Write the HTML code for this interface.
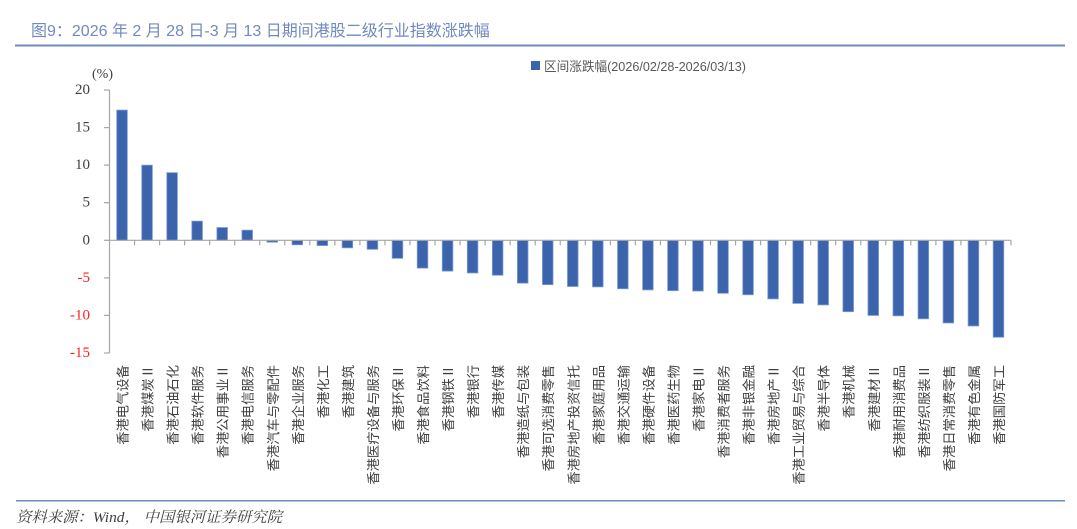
<!DOCTYPE html>
<html>
<head>
<meta charset="utf-8">
<style>
html,body{margin:0;padding:0;background:#fff;}
body{width:1077px;height:529px;overflow:hidden;}
svg{display:block;}
.cjk{font-family:"Liberation Sans","Noto Sans CJK SC",sans-serif;}
.lab{font-family:"Noto Sans CJK SC","Liberation Sans",sans-serif;}
.num{font-family:"Liberation Serif","Noto Serif CJK SC",serif;}
</style>
</head>
<body>
<svg width="1077" height="529" viewBox="0 0 1077 529" xmlns="http://www.w3.org/2000/svg">
  <rect x="0" y="0" width="1077" height="529" fill="#ffffff"/>
  <!-- Title -->
  <text x="31" y="36" class="cjk" font-size="16" fill="#7089c0">图9：2026 年 2 月 28 日-3 月 13 日期间港股二级行业指数涨跌幅</text>
  <rect x="15" y="44.5" width="1050" height="2" fill="#6f8abd"/>

  <!-- Legend -->
  <rect x="531" y="61" width="9" height="9" fill="#3b64ad"/>
  <text x="544" y="71" class="cjk" font-size="13" fill="#595959" textLength="202" lengthAdjust="spacingAndGlyphs">区间涨跌幅(2026/02/28-2026/03/13)</text>

  <!-- Y axis unit -->
  <text x="92" y="78" class="num" font-size="14" fill="#404040">(%)</text>

  <!-- Y axis -->
  <g stroke="#a6a6a6" stroke-width="1.2" fill="none">
    <line x1="109.5" y1="90" x2="109.5" y2="353"/>
    <line x1="104" y1="90" x2="109.5" y2="90"/>
    <line x1="104" y1="127.6" x2="109.5" y2="127.6"/>
    <line x1="104" y1="165.1" x2="109.5" y2="165.1"/>
    <line x1="104" y1="202.7" x2="109.5" y2="202.7"/>
    <line x1="104" y1="240.3" x2="109.5" y2="240.3"/>
    <line x1="104" y1="277.9" x2="109.5" y2="277.9"/>
    <line x1="104" y1="315.4" x2="109.5" y2="315.4"/>
    <line x1="104" y1="353" x2="109.5" y2="353"/>
  </g>
  <g class="num" font-size="15" text-anchor="end" dominant-baseline="central">
    <text x="90" y="90" fill="#404040">20</text>
    <text x="90" y="127.6" fill="#404040">15</text>
    <text x="90" y="165.1" fill="#404040">10</text>
    <text x="90" y="202.7" fill="#404040">5</text>
    <text x="90" y="240.3" fill="#404040">0</text>
    <text x="90" y="277.9" fill="#ff2020">-5</text>
    <text x="90" y="315.4" fill="#ff2020">-10</text>
    <text x="90" y="353" fill="#ff2020">-15</text>
  </g>

  <!-- Bars -->
  <g id="bars" fill="#3b64ad" stroke="#7d9bd2" stroke-width="0.8"></g>

  <!-- X axis -->
  <g id="xaxis" stroke="#a6a6a6" stroke-width="1.2" fill="none"></g>

  <!-- X labels -->
  <g id="xlabels" class="lab" font-size="13.3" fill="#404040"></g>

  <!-- Footer -->
  <rect x="16" y="500" width="1049" height="1.5" fill="#6f8abd"/>
  <text x="16" y="522" class="num" font-size="15" font-style="italic" fill="#404040" textLength="266" lengthAdjust="spacingAndGlyphs">资料来源：Wind， 中国银河证券研究院</text>
</svg>
<script>
(function(){
  var names=["香港电气设备","香港煤炭Ⅱ","香港石油石化","香港软件服务","香港公用事业Ⅱ","香港电信服务","香港汽车与零配件","香港企业服务","香港化工","香港建筑","香港医疗设备与服务","香港环保Ⅱ","香港食品饮料","香港钢铁Ⅱ","香港银行","香港传媒","香港造纸与包装","香港可选消费零售","香港房地产投资信托","香港家庭用品","香港交通运输","香港硬件设备","香港医药生物","香港家电Ⅱ","香港消费者服务","香港非银金融","香港房地产Ⅱ","香港工业贸易与综合","香港半导体","香港机械","香港建材Ⅱ","香港耐用消费品","香港纺织服装Ⅱ","香港日常消费零售","香港有色金属","香港国防军工"];
  var vals=[17.33,10.0,9.0,2.55,1.7,1.35,-0.25,-0.6,-0.7,-1.0,-1.2,-2.4,-3.7,-4.1,-4.35,-4.65,-5.7,-5.9,-6.15,-6.2,-6.45,-6.6,-6.7,-6.75,-7.05,-7.25,-7.8,-8.4,-8.6,-9.5,-10.0,-10.05,-10.45,-11.0,-11.4,-12.9];
  var ns="http://www.w3.org/2000/svg";
  var x0=109.5, x1=1011, n=36, w=(x1-x0)/n, zero=240.3, sc=7.515, bw=10.6;
  var bars=document.getElementById("bars"), ax=document.getElementById("xaxis"), lb=document.getElementById("xlabels");
  for(var i=0;i<n;i++){
    var cx=x0+w*(i+0.5), v=vals[i];
    var r=document.createElementNS(ns,"rect");
    var h=Math.abs(v)*sc;
    r.setAttribute("x",(cx-bw/2).toFixed(2));
    r.setAttribute("y",(v>=0?zero-h:zero).toFixed(2));
    r.setAttribute("width",bw);
    r.setAttribute("height",Math.max(h,0.8).toFixed(2));
    bars.appendChild(r);
    var t=document.createElementNS(ns,"text");
    t.setAttribute("transform","translate("+cx.toFixed(2)+",365) rotate(-90)");
    t.setAttribute("text-anchor","end");
    t.setAttribute("dominant-baseline","central");
    t.textContent=names[i];
    lb.appendChild(t);
  }
  var l=document.createElementNS(ns,"line");
  l.setAttribute("x1",x0);l.setAttribute("x2",x1);l.setAttribute("y1",zero);l.setAttribute("y2",zero);
  ax.appendChild(l);
  for(var k=1;k<=n;k++){
    var tx=x0+w*k;
    var tk=document.createElementNS(ns,"line");
    tk.setAttribute("x1",tx);tk.setAttribute("x2",tx);tk.setAttribute("y1",zero);tk.setAttribute("y2",zero+5);
    ax.appendChild(tk);
  }
})();
</script>
</body>
</html>
